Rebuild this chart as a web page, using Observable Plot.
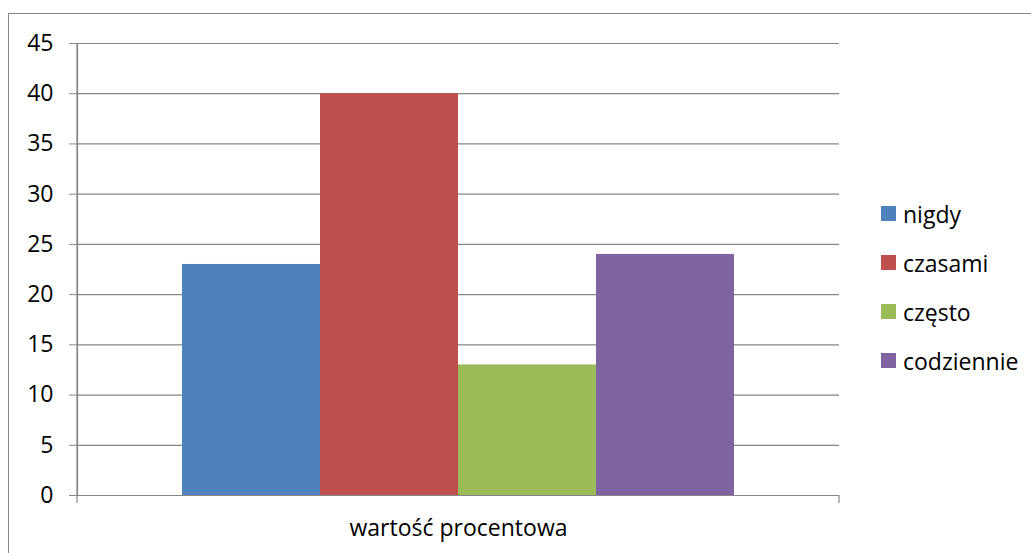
<!DOCTYPE html>
<html>
<head>
<meta charset="utf-8">
<script src="https://cdn.jsdelivr.net/npm/d3@7"></script>
<script src="https://cdn.jsdelivr.net/npm/@observablehq/plot@0.6"></script>
<style>
  html, body { margin: 0; padding: 0; background: #fff; overflow: hidden; }
  #wrap { position: relative; width: 1031px; height: 553px; overflow: hidden; font-family: "Open Sans", sans-serif; }
  #border { position: absolute; left: 8px; top: 13px; width: 1100px; height: 700px; border: 1px solid #868686; box-sizing: border-box; pointer-events: none; }
  #legend { position: absolute; left: 881px; top: 189px; font-size: 23px; color: #000; }
  .item { display: flex; align-items: center; height: 49px; }
  .sw { width: 15px; height: 15px; margin-right: 7px; }
</style>
</head>
<body>
<div id="wrap">
  <div id="chart"></div>
  <div id="border"></div>
  <div id="legend"></div>
</div>
<script>
const category = "wartość procentowa";
const series = ["nigdy", "czasami", "często", "codziennie"];
const values = [23, 40, 13, 24];
const colors = ["#4F81BD", "#C0504D", "#9BBB59", "#8064A2"];
const yTicks = [0, 5, 10, 15, 20, 25, 30, 35, 40, 45];

const data = series.map((s, i) => ({series: s, value: values[i]}));
const gray = "#868686";

const plot = Plot.plot({
  width: 1031,
  height: 553,
  marginLeft: 77,
  marginRight: 192,
  marginTop: 43,
  marginBottom: 58,
  style: {fontFamily: "Open Sans, sans-serif", fontSize: "23px", color: "#000", background: "transparent"},
  x: {type: "band", domain: series, paddingInner: 0, paddingOuter: 0.75, axis: null},
  y: {domain: [0, 45], axis: null},
  color: {domain: series, range: colors},
  marks: [
    Plot.gridY(yTicks, {stroke: gray, strokeOpacity: 1, strokeWidth: 1.2}),
    Plot.axisY(yTicks, {tickSize: 8, tickPadding: 16, stroke: gray, strokeOpacity: 1, label: null, fill: "#000", fontSize: 23}),
    Plot.barY(data, {x: "series", y: "value", fill: "series", inset: 0}),
    Plot.frame({anchor: "left", stroke: gray, strokeWidth: 1.2}),
    Plot.text([category], {frameAnchor: "bottom", dy: 40, fontSize: 23, fill: "#000"})
  ]
});
document.getElementById("chart").appendChild(plot);

// category axis end ticks (Excel style), derived from scales
const xr = plot.scale("x").range;
const y0 = plot.scale("y").apply(0);
const yTop = plot.scale("y").apply(45);
const svg = d3.select(plot);
[xr[0], xr[1]].forEach(x => {
  svg.append("line").attr("x1", x).attr("x2", x).attr("y1", x === xr[0] ? yTop : y0).attr("y2", y0 + 8)
    .attr("stroke", gray).attr("stroke-width", 1.2);
});

// legend
const legend = d3.select("#legend");
series.forEach((s, i) => {
  const it = legend.append("div").attr("class", "item");
  it.append("div").attr("class", "sw").style("background", colors[i]);
  it.append("span").text(s);
});
</script>
</body>
</html>
